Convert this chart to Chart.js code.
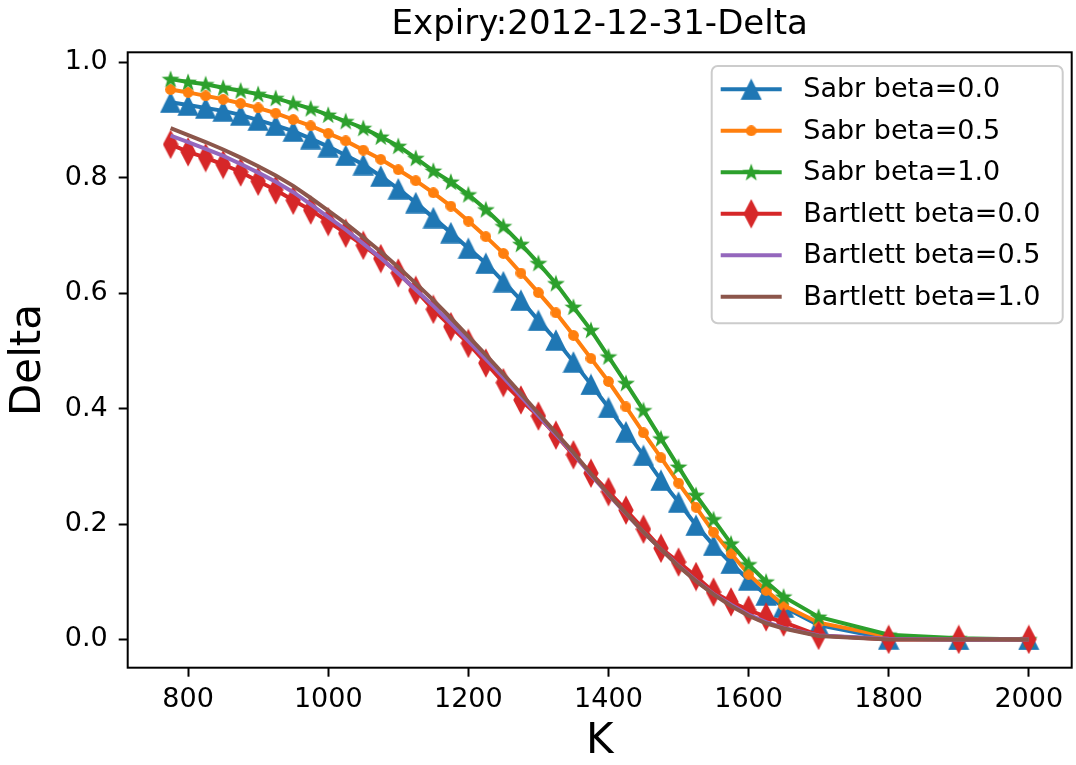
<!DOCTYPE html>
<html>
<head>
<meta charset="utf-8">
<title>Expiry:2012-12-31-Delta</title>
<script src="https://cdn.jsdelivr.net/npm/chart.js@4.4.1/dist/chart.umd.min.js"></script>
<style>
    html, body { margin: 0; padding: 0; background: #fff; }
    #chart { display: block; }
</style>
</head>
<body>
<canvas id="chart" width="1076" height="765"></canvas>
<script>
// strikes K
const strikes = [
    775, 800, 825, 850, 875, 900, 925, 950, 975, 1000,
    1025, 1050, 1075, 1100, 1125, 1150, 1175, 1200,
    1225, 1250, 1275, 1300, 1325, 1350, 1375, 1400,
    1425, 1450, 1475, 1500, 1525, 1550, 1575, 1600,
    1625, 1650,
    1700, 1800, 1900, 2000
];

const sabrBeta00 = [
    0.931, 0.926, 0.921, 0.916, 0.909, 0.900, 0.891, 0.881, 0.868, 0.854,
    0.839, 0.823, 0.803, 0.781, 0.757, 0.731, 0.705, 0.678,
    0.652, 0.620, 0.588, 0.553, 0.519, 0.481, 0.442, 0.402,
    0.360, 0.319, 0.276, 0.238, 0.198, 0.163, 0.132, 0.103,
    0.077, 0.056,
    0.025, 0.001, 0.000, 0.000
];
const sabrBeta05 = [
    0.953, 0.948, 0.942, 0.936, 0.929, 0.921, 0.912, 0.901, 0.890, 0.877,
    0.864, 0.848, 0.832, 0.814, 0.795, 0.774, 0.751, 0.725,
    0.698, 0.669, 0.635, 0.601, 0.566, 0.527, 0.487, 0.447,
    0.403, 0.358, 0.315, 0.271, 0.229, 0.186, 0.149, 0.113,
    0.085, 0.059,
    0.029, 0.005, 0.001, 0.000
];
const sabrBeta10 = [
    0.971, 0.966, 0.962, 0.956, 0.951, 0.945, 0.938, 0.929, 0.920, 0.909,
    0.898, 0.886, 0.871, 0.855, 0.834, 0.812, 0.793, 0.771,
    0.745, 0.716, 0.685, 0.652, 0.617, 0.576, 0.536, 0.490,
    0.444, 0.397, 0.348, 0.299, 0.250, 0.208, 0.166, 0.130,
    0.100, 0.074,
    0.039, 0.008, 0.002, 0.000
];
const bartlettBeta00 = [
    0.858, 0.845, 0.835, 0.823, 0.810, 0.794, 0.779, 0.761, 0.744, 0.724,
    0.704, 0.683, 0.660, 0.635, 0.605, 0.572, 0.542, 0.513,
    0.479, 0.445, 0.415, 0.387, 0.354, 0.320, 0.288, 0.256,
    0.224, 0.191, 0.158, 0.134, 0.109, 0.082, 0.065, 0.051,
    0.039, 0.030,
    0.007, 0.000, 0.000, 0.000
];
const bartlettBeta05 = [
    0.873, 0.862, 0.850, 0.838, 0.824, 0.809, 0.793, 0.775, 0.754, 0.732,
    0.710, 0.686, 0.661, 0.634, 0.606, 0.578, 0.548, 0.517,
    0.486, 0.454, 0.421, 0.388, 0.355, 0.322, 0.285, 0.251,
    0.218, 0.186, 0.156, 0.128, 0.102, 0.079, 0.060, 0.043,
    0.030, 0.020,
    0.007, 0.001, 0.000, 0.000
];
const bartlettBeta10 = [
    0.886, 0.874, 0.862, 0.849, 0.835, 0.820, 0.804, 0.786, 0.765, 0.743,
    0.721, 0.697, 0.672, 0.645, 0.617, 0.588, 0.557, 0.525,
    0.493, 0.460, 0.426, 0.392, 0.358, 0.324, 0.287, 0.252,
    0.219, 0.186, 0.156, 0.127, 0.101, 0.078, 0.058, 0.041,
    0.028, 0.019,
    0.006, 0.000, 0.000, 0.000
];

const xTicks = [800, 1000, 1200, 1400, 1600, 1800, 2000];
const yTicks = [0.0, 0.2, 0.4, 0.6, 0.8, 1.0];

const FONT = '"DejaVu Sans", sans-serif';
Chart.defaults.font.family = FONT;
Chart.defaults.color = "#000";

/**
 * Small canvas used as a matplotlib-like marker
 */
function makeMarker(w, h, color, path) {
    let c = document.createElement("canvas");
    c.width = w;
    c.height = h;
    let ctx = c.getContext("2d");
    ctx.fillStyle = color;
    ctx.beginPath();
    path(ctx);
    ctx.closePath();
    ctx.fill();
    return c;
}

const triangle = makeMarker(22, 22, "#1f77b4", (ctx) => {
    ctx.moveTo(11, 0.3);
    ctx.lineTo(21.7, 21.7);
    ctx.lineTo(0.3, 21.7);
});
const circle = makeMarker(11, 11, "#ff7f0e", (ctx) => {
    ctx.arc(5.5, 5.5, 5.4, 0, Math.PI * 2);
});
const star = makeMarker(20, 20, "#2ca02c", (ctx) => {
    for (let i = 0; i < 10; i++) {
        let r = i % 2 === 0 ? 9.4 : 9.4 * 0.40;
        let a = -Math.PI / 2 + i * Math.PI / 5;
        let px = 10 + r * Math.cos(a);
        let py = 10.6 + r * Math.sin(a);
        if (i === 0) ctx.moveTo(px, py); else ctx.lineTo(px, py);
    }
});
const diamond = makeMarker(16, 30, "#d62728", (ctx) => {
    ctx.moveTo(8, 0.3);
    ctx.lineTo(15.7, 15);
    ctx.lineTo(8, 29.7);
    ctx.lineTo(0.3, 15);
});

let series = [
    { label: "Sabr beta=0.0", values: sabrBeta00, color: "#1f77b4", marker: triangle },
    { label: "Sabr beta=0.5", values: sabrBeta05, color: "#ff7f0e", marker: circle },
    { label: "Sabr beta=1.0", values: sabrBeta10, color: "#2ca02c", marker: star },
    { label: "Bartlett beta=0.0", values: bartlettBeta00, color: "#d62728", marker: diamond },
    { label: "Bartlett beta=0.5", values: bartlettBeta05, color: "#9467bd", marker: null },
    { label: "Bartlett beta=1.0", values: bartlettBeta10, color: "#8c564b", marker: null }
];

let datasets = series.map((s, i) => ({
    label: s.label,
    data: s.values.map((v, j) => ({ x: strikes[j], y: v })),
    borderColor: s.color,
    backgroundColor: s.color,
    borderWidth: 4,
    tension: 0,
    pointStyle: s.marker || "circle",
    pointRadius: s.marker ? 5 : 0,
    pointHoverRadius: s.marker ? 5 : 0,
    marker: s.marker,
    order: series.length - i
}));

// frame, title and legend like matplotlib
const mplPlugin = {
    id: "mpl",
    afterDatasetsDraw(chart) {
        let ctx = chart.ctx;
        let a = chart.chartArea;
        ctx.save();
        ctx.strokeStyle = "#000";
        ctx.lineWidth = 2;
        ctx.strokeRect(a.left, a.top, a.right - a.left, a.bottom - a.top);
        ctx.restore();
    },
    afterDraw(chart) {
        let ctx = chart.ctx;
        let a = chart.chartArea;
        ctx.save();

        // title
        ctx.fillStyle = "#000";
        ctx.font = "34px " + FONT;
        ctx.textAlign = "center";
        ctx.textBaseline = "alphabetic";
        ctx.fillText("Expiry:2012-12-31-Delta", (a.left + a.right) / 2, 33.5);

        // legend box
        let right = a.right - 9;
        let left = right - 351;
        let top = a.top + 13.7;
        let bottom = top + 257.3;
        let r = 6;
        ctx.beginPath();
        ctx.moveTo(left + r, top);
        ctx.arcTo(right, top, right, bottom, r);
        ctx.arcTo(right, bottom, left, bottom, r);
        ctx.arcTo(left, bottom, left, top, r);
        ctx.arcTo(left, top, right, top, r);
        ctx.closePath();
        ctx.fillStyle = "rgba(255,255,255,0.8)";
        ctx.fill();
        ctx.strokeStyle = "#cccccc";
        ctx.lineWidth = 2;
        ctx.stroke();

        ctx.font = "27px " + FONT;
        ctx.textAlign = "left";
        ctx.textBaseline = "middle";
        chart.data.datasets.forEach((ds, i) => {
            let y = top + 23.3 + i * 41.5;
            ctx.strokeStyle = ds.borderColor;
            ctx.lineWidth = 4;
            ctx.beginPath();
            ctx.moveTo(left + 9, y);
            ctx.lineTo(left + 70, y);
            ctx.stroke();
            if (ds.marker) {
                let m = ds.marker;
                ctx.drawImage(m, left + 39.5 - m.width / 2, y - m.height / 2);
            }
            ctx.fillStyle = "#000";
            ctx.fillText(ds.label, left + 91.6, y + 1);
        });
        ctx.restore();
    }
};

new Chart(document.getElementById("chart"), {
    type: "line",
    data: { datasets: datasets },
    options: {
        responsive: false,
        animation: false,
        devicePixelRatio: 1,
        events: [],
        layout: {
            autoPadding: false,
            padding: { top: 52.3, right: 4.3, left: 0, bottom: 0 }
        },
        plugins: {
            legend: { display: false },
            title: { display: false },
            tooltip: { enabled: false }
        },
        scales: {
            x: {
                type: "linear",
                min: 713.75,
                max: 2061.25,
                afterBuildTicks: (scale) => {
                    scale.ticks = xTicks.map((v) => ({ value: v }));
                },
                afterFit: (scale) => {
                    scale.height = 97.3;
                },
                ticks: {
                    autoSkip: false,
                    maxRotation: 0,
                    padding: 6.6,
                    color: "#000",
                    font: { size: 27 },
                    callback: (v) => String(v)
                },
                grid: {
                    display: true,
                    drawOnChartArea: false,
                    drawTicks: true,
                    tickLength: 9,
                    tickWidth: 2,
                    tickColor: "#000"
                },
                border: { display: false },
                title: {
                    display: true,
                    text: "K",
                    color: "#000",
                    font: { size: 42, lineHeight: 1.1 },
                    padding: { top: 0, bottom: 0 }
                }
            },
            y: {
                type: "linear",
                min: -0.049,
                max: 1.0175,
                afterBuildTicks: (scale) => {
                    scale.ticks = yTicks.map((v) => ({ value: v }));
                },
                afterFit: (scale) => {
                    scale.width = 127.7;
                },
                ticks: {
                    padding: 11,
                    color: "#000",
                    font: { size: 27 },
                    callback: (v) => Number(v).toFixed(1)
                },
                grid: {
                    display: true,
                    drawOnChartArea: false,
                    drawTicks: true,
                    tickLength: 9,
                    tickWidth: 2,
                    tickColor: "#000"
                },
                border: { display: false },
                title: {
                    display: true,
                    text: "Delta",
                    color: "#000",
                    font: { size: 42, lineHeight: 1.2 },
                    padding: { top: 3.6, bottom: 0 }
                }
            }
        }
    },
    plugins: [mplPlugin]
});
</script>
</body>
</html>
